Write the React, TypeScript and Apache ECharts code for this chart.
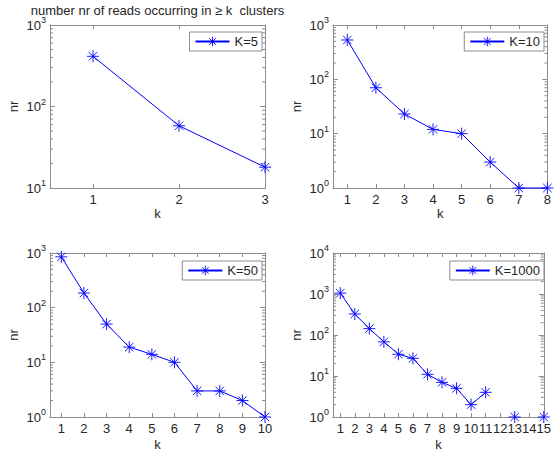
import React, { useEffect, useRef } from "react";
import * as echarts from "echarts";

// ---- data ----
const k5 = [1, 2, 3];
const nr5 = [413, 58, 18];
const k10 = [1, 2, 3, 4, 5, 6, 7, 8];
const nr10 = [530, 70, 23, 12, 10, 3, 1, 1];
const k50 = [1, 2, 3, 4, 5, 6, 7, 8, 9, 10];
const nr50 = [850, 185, 50, 19, 14, 10, 3, 3, 2, 1];
const k1000 = [1, 2, 3, 4, 5, 6, 7, 8, 9, 10, 11, 12, 13, 14, 15];
const nr1000: (number | null)[] = [1050, 325, 143, 68, 34, 27, 11, 7, 5, 2, 4, null, 1, null, 1];

const seriesNames = ["K=5", "K=10", "K=50", "K=1000"];
const xTickLabels = [k5, k10, k50, k1000];
const yMinVals = [10, 1, 1, 1];
const yMaxVals = [1000, 1000, 1000, 10000];
const titleText = "number nr of reads occurring in \u2265 k  clusters";
const xName = "k";
const yName = "nr";

const FONT = "'Liberation Sans', Arial, Helvetica, sans-serif";
const BOX = "#8c8c8c";
const TXT = "#262626";
const BLUE = "#0000ff";
const STAR = "path://M5 0L5 10M0 5L10 5M1.5 1.5L8.5 8.5M8.5 1.5L1.5 8.5";

const panels = [
  { k: k5, nr: nr5 },
  { k: k10, nr: nr10 },
  { k: k50, nr: nr50 },
  { k: k1000, nr: nr1000 },
];

// layout
const grids = [
  { left: 50, top: 25, width: 215, height: 163 },
  { left: 333, top: 25, width: 215, height: 163 },
  { left: 50, top: 253, width: 215, height: 164 },
  { left: 333, top: 253, width: 215, height: 164 },
];
const legendPos = [
  { right: 292, top: 32 },
  { right: 10, top: 32 },
  { right: 292, top: 261 },
  { right: 10, top: 261 },
];

function decades(min: number, max: number) {
  const out: number[] = [];
  for (let v = min; v <= max * 1.0001; v *= 10) out.push(Math.round(v));
  return out;
}
function minors(min: number, max: number) {
  const out: number[] = [];
  for (let d = min; d < max; d *= 10) {
    for (let m = 2; m <= 9; m++) out.push(d * m);
  }
  return out;
}

export default function App() {
  const ref = useRef<HTMLDivElement>(null);
  useEffect(() => {
    document.body.style.margin = "0";
    const chart = echarts.init(ref.current!, null, { renderer: "svg" });
    const xAxes: any[] = [];
    const yAxes: any[] = [];
    const series: any[] = [];
    const legends: any[] = [];
    panels.forEach((p, i) => {
      const xmax = p.k[p.k.length - 1];
      const ymin = yMinVals[i];
      const ymax = yMaxVals[i];
      const yt = decades(ymin, ymax);
      const nameGapX = i < 2 ? 19 : 21;
      xAxes.push({
        gridIndex: i,
        type: "value",
        position: "bottom",
        min: 0.5,
        max: xmax,
        name: xName,
        nameLocation: "middle",
        nameGap: nameGapX,
        nameTextStyle: { fontSize: 13, color: TXT, fontFamily: FONT },
        axisLine: { show: true, onZero: false, lineStyle: { color: BOX, width: 1 } },
        axisTick: { show: true, inside: true, length: 4, customValues: xTickLabels[i], lineStyle: { color: BOX } },
        axisLabel: { show: true, customValues: xTickLabels[i], margin: 5, fontSize: 13, color: TXT, fontFamily: FONT, hideOverlap: false },
        splitLine: { show: false },
      });
      xAxes.push({
        gridIndex: i,
        type: "value",
        position: "top",
        min: 0.5,
        max: xmax,
        axisLine: { show: true, onZero: false, lineStyle: { color: BOX, width: 1 } },
        axisTick: { show: true, inside: true, length: 4, customValues: xTickLabels[i], lineStyle: { color: BOX } },
        axisLabel: { show: false },
        splitLine: { show: false },
      });
      yAxes.push({
        gridIndex: i,
        type: "log",
        logBase: 10,
        position: "left",
        min: ymin,
        max: ymax,
        name: yName,
        nameLocation: "middle",
        nameGap: 30,
        nameTextStyle: { fontSize: 13, color: TXT, fontFamily: FONT },
        axisLine: { show: true, onZero: false, lineStyle: { color: BOX, width: 1 } },
        axisTick: { show: true, inside: true, length: 5, customValues: yt, lineStyle: { color: BOX } },
        axisLabel: {
          show: true,
          customValues: yt,
          margin: 4,
          color: TXT,
          fontFamily: FONT,
          formatter: (v: number) => `{b|10}{s|${Math.round(Math.log10(v))}}`,
          rich: {
            b: { fontSize: 13, color: TXT, fontFamily: FONT },
            s: { fontSize: 9, color: TXT, fontFamily: FONT, padding: [0, 0, 10, 0] },
          },
        },
        splitLine: { show: false },
      });
      yAxes.push({
        gridIndex: i,
        type: "log",
        logBase: 10,
        position: "right",
        min: ymin,
        max: ymax,
        axisLine: { show: true, onZero: false, lineStyle: { color: BOX, width: 1 } },
        axisTick: { show: true, inside: true, length: 5, customValues: yt, lineStyle: { color: BOX } },
        axisLabel: { show: false },
        splitLine: { show: false },
      });
      series.push({
        type: "line",
        name: seriesNames[i],
        xAxisIndex: 2 * i,
        yAxisIndex: 2 * i,
        data: p.k.map((kk, j) => [kk, p.nr[j] == null ? "-" : p.nr[j]]),
        connectNulls: false,
        symbol: STAR,
        symbolSize: 12,
        showAllSymbol: true,
        lineStyle: { color: BLUE, width: 1 },
        itemStyle: { color: BLUE, borderColor: BLUE, borderWidth: 0.9 },
        clip: false,
        z: 3,
      });
      const mins = minors(ymin, ymax);
      series.push({
        type: "custom",
        xAxisIndex: 2 * i,
        yAxisIndex: 2 * i,
        data: mins.map((m) => [1, m]),
        silent: true,
        z: 1,
        renderItem: (params: any, api: any) => {
          const cs = params.coordSys;
          const y = api.coord([1, api.value(1)])[1];
          return {
            type: "group",
            children: [
              { type: "line", shape: { x1: cs.x, y1: y, x2: cs.x + 3, y2: y }, style: { stroke: BOX, lineWidth: 1 } },
              { type: "line", shape: { x1: cs.x + cs.width - 3, y1: y, x2: cs.x + cs.width, y2: y }, style: { stroke: BOX, lineWidth: 1 } },
            ],
          };
        },
      });
      legends.push({
        data: [seriesNames[i]],
        ...legendPos[i],
        orient: "horizontal",
        backgroundColor: "#ffffff",
        borderColor: BOX,
        borderWidth: 1,
        borderRadius: 0,
        padding: [3, 4, 3, 5],
        itemWidth: 34,
        itemHeight: 12,
        itemGap: 0,
        selectedMode: false,
        itemStyle: { borderWidth: 0.9 },
        textStyle: { fontSize: 13, color: TXT, fontFamily: FONT },
      });
    });

    chart.setOption({
      animation: false,
      backgroundColor: "#ffffff",
      grid: grids.map((g) => ({ ...g, containLabel: false })),
      xAxis: xAxes,
      yAxis: yAxes,
      legend: legends,
      series,
      graphic: [
        {
          type: "text",
          x: 157.5,
          y: 10,
          style: {
            text: titleText,
            fontSize: 13,
            fontFamily: FONT,
            fill: TXT,
            textAlign: "center",
            textVerticalAlign: "middle",
          },
        },
      ],
    });
    return () => chart.dispose();
  }, []);
  return (
    <div
      ref={ref}
      style={{ position: "fixed", left: 0, top: 0, width: 554, height: 455, background: "#fff" }}
    />
  );
}
